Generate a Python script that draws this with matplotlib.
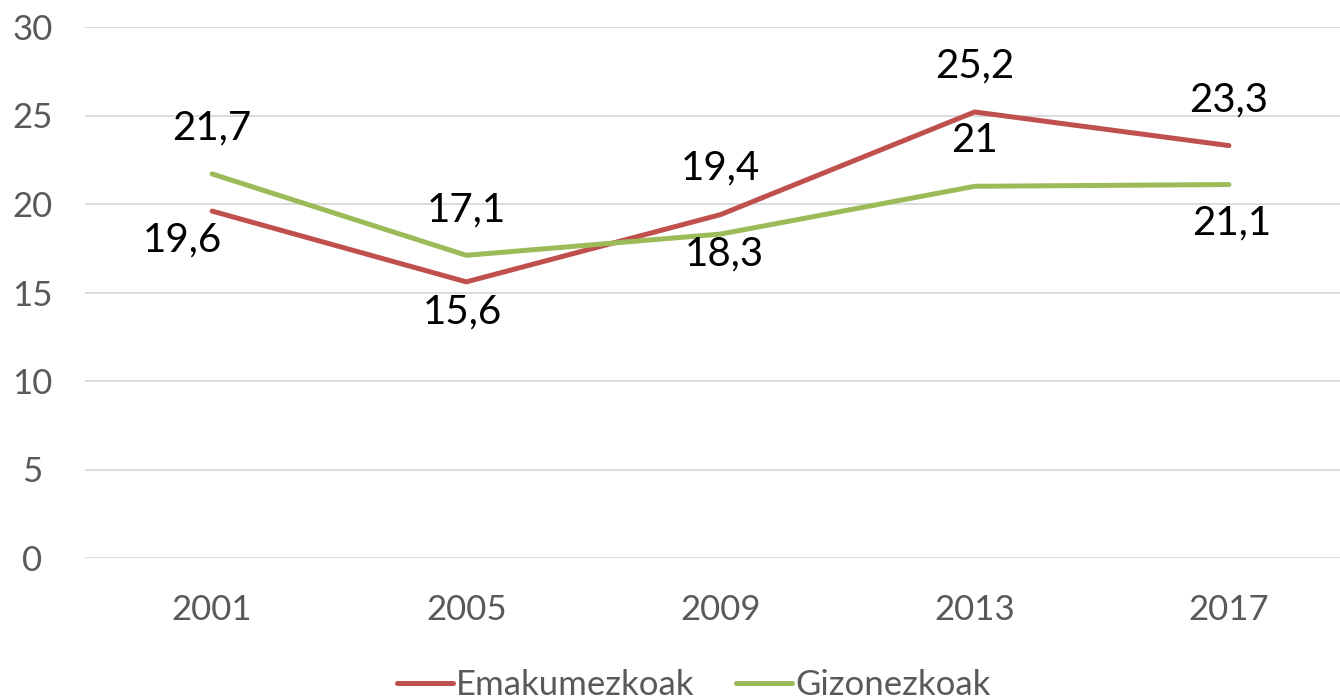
import numpy as np
import matplotlib.pyplot as plt

urteak = ['2001', '2005', '2009', '2013', '2017']
emakumezkoak = [19.6, 15.6, 19.4, 25.2, 23.3]
gizonezkoak = [21.7, 17.1, 18.3, 21, 21.1]

# label offsets in pixels (dx, dy) relative to the point
off_e = [(-30, -29), (-4, -30), (0, 47), (0, 46), (0, 46)]
off_g = [(0, 46), (0, 45), (4, -20), (0, 46), (3, -38)]

plt.rcParams['font.family'] = ['Lato', 'DejaVu Sans']

fig = plt.figure(figsize=(13.4, 7), dpi=100)
ax = fig.add_axes([85/1340, 142/700, 1271/1340, 531/700])

x = np.arange(len(urteak))
red = '#C0504D'
green = '#9BBB59'
ax.plot(x, emakumezkoak, color=red, lw=3.6, solid_capstyle='round', zorder=3, label='Emakumezkoak')
ax.plot(x, gizonezkoak, color=green, lw=3.6, solid_capstyle='round', zorder=3, label='Gizonezkoak')

def fmt(v):
    s = ('%.1f' % v).replace('.', ',')
    return s[:-2] if s.endswith(',0') else s

for i in range(len(x)):
    dx, dy = off_e[i]
    ax.annotate(fmt(emakumezkoak[i]), (x[i], emakumezkoak[i]), xytext=(dx*0.72, dy*0.72),
                textcoords='offset points', ha='center', va='center', fontsize=29, color='black')
    dx, dy = off_g[i]
    ax.annotate(fmt(gizonezkoak[i]), (x[i], gizonezkoak[i]), xytext=(dx*0.72, dy*0.72),
                textcoords='offset points', ha='center', va='center', fontsize=29, color='black')

ax.set_xlim(-0.5, len(x) - 0.5)
ax.set_ylim(0, 30)
ax.set_yticks(range(0, 31, 5))
ax.set_xticks(x)
ax.set_xticklabels(urteak)
ax.yaxis.grid(True, color='#D9D9D9', lw=1.3)
ax.set_axisbelow(True)
for s in ax.spines.values():
    s.set_visible(False)
ax.tick_params(length=0, labelsize=25, labelcolor='#595959')
ax.tick_params(axis='y', pad=38)
ax.tick_params(axis='x', pad=26)
for t in ax.get_yticklabels():
    t.set_horizontalalignment('center')

fig.legend(loc='center', bbox_to_anchor=(694/1340, 1 - 685/700), ncol=2, frameon=False,
           fontsize=25, handlelength=1.6, handletextpad=0.1, columnspacing=1.2,
           labelcolor='#595959')

fig.savefig('out.png', dpi=100)
